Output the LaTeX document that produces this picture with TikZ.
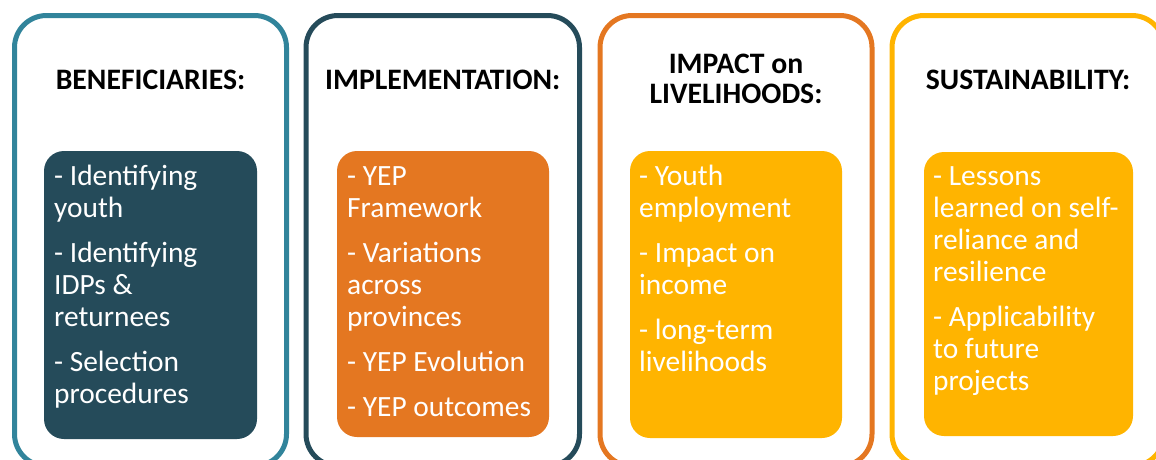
\documentclass[tikz,border=0pt]{standalone}
\usepackage{fontspec}
\setmainfont{Carlito}
\definecolor{tealb}{RGB}{49,132,155}
\definecolor{darkteal}{RGB}{37,75,90}
\definecolor{orng}{RGB}{228,119,33}
\definecolor{ambr}{RGB}{255,180,0}
\newcommand{\firstln}{\rule{0pt}{24pt}}
\tikzset{
  outerbox/.style={line width=5pt, rounded corners=32pt},
  innerbox/.style={rounded corners=20pt},
  head/.style={font=\fontsize{29.7}{30}\selectfont\bfseries, align=center, inner sep=0pt, anchor=base},
  body/.style={font=\fontsize{29.4}{32}\selectfont, text=white, align=left, inner sep=0pt, anchor=north west}
}
\begin{document}
\begin{tikzpicture}[x=1pt,y=-1pt]
\useasboundingbox (0,0) rectangle (1156,459);
\clip (0,0) rectangle (1156,459);
% outer boxes
\draw[outerbox, draw=tealb] (14.5,15.5) rectangle (286.5,466);
\draw[outerbox, draw=darkteal] (306,15.5) rectangle (579.5,466);
\draw[outerbox, draw=orng] (600,15.5) rectangle (872,466);
\draw[outerbox, draw=ambr] (892,15.5) rectangle (1164,466);
% inner boxes
\fill[innerbox, darkteal] (44,151) rectangle (257,439);
\fill[innerbox, orng] (337,151) rectangle (549,437);
\fill[innerbox, ambr] (630,151) rectangle (842,438);
\fill[innerbox, ambr] (924,152) rectangle (1133,436);
% headers
\node[head] (h1) at (150.5,89) {BENEFICIARIES:};
\node[head] (h2) at (442.75,89) {IMPLEMENTATION:};
\node[head] (h3) at (736,103) {IMPACT on\\LIVELIHOODS:};
\node[head] (h4) at (1028,89) {SUSTAINABILITY:};
% body texts
\node[body] (b1) at (54,161) {\firstln- Identifying\\youth\\[13pt]- Identifying\\IDPs \&\\returnees\\[13pt]- Selection\\procedures};
\node[body] (b2) at (347,161) {\firstln- YEP\\Framework\\[13pt]- Variations\\across\\provinces\\[13pt]- YEP Evolution\\[13pt]- YEP outcomes};
\node[body] (b3) at (639,161) {\firstln- Youth\\employment\\[13pt]- Impact on\\income\\[13pt]- long-term\\livelihoods};
\node[body] (b4) at (933,161) {\firstln- Lessons\\learned on self-\\reliance and\\resilience\\[13pt]- Applicability\\to future\\projects};
\end{tikzpicture}
\end{document}
